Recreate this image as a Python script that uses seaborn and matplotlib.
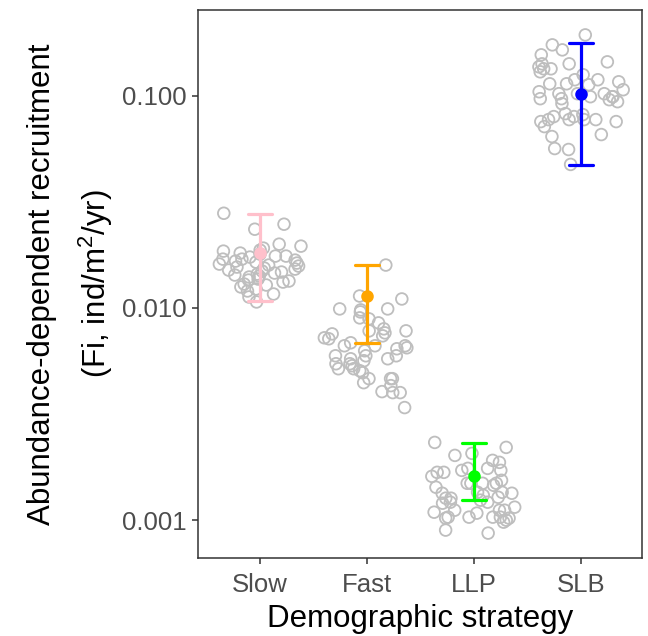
import numpy as np
import pandas as pd
import matplotlib
matplotlib.use("Agg")
import matplotlib.pyplot as plt
import seaborn as sns

# ---- data ----
categories = ["Slow", "Fast", "LLP", "SLB"]
colors = ["#FFC0CB", "#FFA500", "#00FF00", "#0000FF"]

slow_vals = [0.02793, 0.02480, 0.02349, 0.01997, 0.01955, 0.01913, 0.01872, 0.01852,
             0.01813, 0.01793, 0.01755, 0.01755, 0.01736, 0.01698, 0.01698, 0.01680,
             0.01662, 0.01644, 0.01627, 0.01609, 0.01592, 0.01575, 0.01558, 0.01541,
             0.01524, 0.01508, 0.01492, 0.01476, 0.01460, 0.01444, 0.01429, 0.01413,
             0.01398, 0.01368, 0.01353, 0.01339, 0.01324, 0.01296, 0.01282, 0.01255,
             0.01228, 0.01202, 0.01163, 0.01126, 0.01067]
fast_vals = [0.01592, 0.01138, 0.01102, 0.009893, 0.009893, 0.009576, 0.009786, 0.008502,
             0.008881, 0.008977, 0.007232, 0.007546, 0.007628, 0.007798, 0.007969, 0.007798,
             0.007387, 0.007155, 0.006851, 0.006632, 0.006632, 0.006490, 0.006632, 0.006420,
             0.006283, 0.005950, 0.005950, 0.005760, 0.005637, 0.005760, 0.005950, 0.005457,
             0.005170, 0.005340, 0.005457, 0.005170, 0.005060, 0.004952, 0.004642, 0.004642,
             0.004642, 0.004444, 0.004303, 0.003990, 0.004033, 0.003990, 0.003392]
llp_vals = [0.002324, 0.002202, 0.002019, 0.002064, 0.001872, 0.001913, 0.001680, 0.001754,
            0.001680, 0.001716, 0.001716, 0.001754, 0.001492, 0.001460, 0.001541, 0.001492,
            0.001609, 0.001492, 0.001492, 0.001429, 0.001353, 0.001310, 0.001353, 0.001339,
            0.001339, 0.001269, 0.001215, 0.001202, 0.001215, 0.001242, 0.001269, 0.001282,
            0.001114, 0.001090, 0.001079, 0.001114, 0.001151, 0.001114, 0.001022, 0.001000,
            0.001022, 0.001033, 0.001033, 0.001033, 0.0009786, 0.0008977, 0.0008690, 0.001033]
slb_vals = [0.1934, 0.1736, 0.1558, 0.1644, 0.1444, 0.1413, 0.1368, 0.1413, 0.1339, 0.1339,
            0.1296, 0.1255, 0.1189, 0.1189, 0.1138, 0.1138, 0.1126, 0.1163, 0.1067, 0.1022,
            0.1044, 0.09576, 0.09371, 0.1022, 0.1022, 0.09892, 0.09892, 0.09892, 0.09681,
            0.09681, 0.09171, 0.07716, 0.07551, 0.07551, 0.07716, 0.07153, 0.07716, 0.07970,
            0.07970, 0.08145, 0.07716, 0.08234, 0.06560, 0.06420, 0.05637, 0.05578, 0.04744]

est_mean = [0.01813, 0.01138, 0.00161, 0.1022]
est_lo = [0.01079, 0.00685, 0.00124, 0.0474]
est_hi = [0.02762, 0.0159, 0.0023, 0.1775]

ytick_vals = [0.001, 0.01, 0.1]
ytick_labels = ["0.001", "0.010", "0.100"]

# ---- frames ----
pts = pd.DataFrame({
    "strategy": (["Slow"] * len(slow_vals) + ["Fast"] * len(fast_vals)
                 + ["LLP"] * len(llp_vals) + ["SLB"] * len(slb_vals)),
    "value": slow_vals + fast_vals + llp_vals + slb_vals,
})
rows = []
for c, lo, m, hi in zip(categories, est_lo, est_mean, est_hi):
    for v in (lo, m, hi):
        rows.append({"strategy": c, "value": v})
est = pd.DataFrame(rows)

# ---- plot ----
sns.set_style("white")
plt.rcParams["font.family"] = ["Liberation Sans", "DejaVu Sans"]
plt.rcParams["mathtext.fontset"] = "custom"
plt.rcParams["mathtext.rm"] = "Liberation Sans"
plt.rcParams["mathtext.it"] = "Liberation Sans:italic"

fig = plt.figure(figsize=(6.48, 6.36), dpi=100)
ax = fig.add_axes([198 / 648, 1 - 558 / 636, 444 / 648, 548 / 636])
ax.set_yscale("log")

np.random.seed(7)
sns.stripplot(data=pts, x="strategy", y="value", order=categories, jitter=0.4,
              size=8.4, color="#BEBEBE", ax=ax, zorder=2)
for coll in ax.collections:
    coll.set_facecolor("none")
    coll.set_edgecolor("#BEBEBE")
    coll.set_linewidth(1.3)

sns.pointplot(data=est, x="strategy", y="value", order=categories, hue="strategy",
              hue_order=categories, palette=colors, estimator="median",
              errorbar=("pi", 100), capsize=0.22, linestyle="none", markers="o",
              markersize=7, err_kws={"linewidth": 2.3}, legend=False, ax=ax)

lv = np.log10(pts["value"])
rng = lv.max() - lv.min()
ax.set_ylim(10 ** (lv.min() - 0.05 * rng), 10 ** (lv.max() + 0.05 * rng))
ax.set_xlim(-0.58, 3.57)
ax.set_yticks(ytick_vals)
ax.set_yticklabels(ytick_labels)
ax.yaxis.set_minor_locator(matplotlib.ticker.NullLocator())

for s in ax.spines.values():
    s.set_visible(True)
    s.set_color("#333333")
    s.set_linewidth(1.1)
ax.tick_params(axis="both", which="major", direction="out", length=4.5, width=1.1,
               color="#333333", labelcolor="#4D4D4D", labelsize=18.5, pad=4,
               left=True, bottom=True)
ax.tick_params(axis="x", pad=6)

ax.set_xlabel("Demographic strategy", fontsize=22.5, color="black", labelpad=5)
ax.set_ylabel("Abundance-dependent recruitment\n(Fi, ind/m$^2$/yr)", fontsize=22.5,
              color="black", labelpad=5, linespacing=1.65)

fig.savefig("out.png", dpi=100)
